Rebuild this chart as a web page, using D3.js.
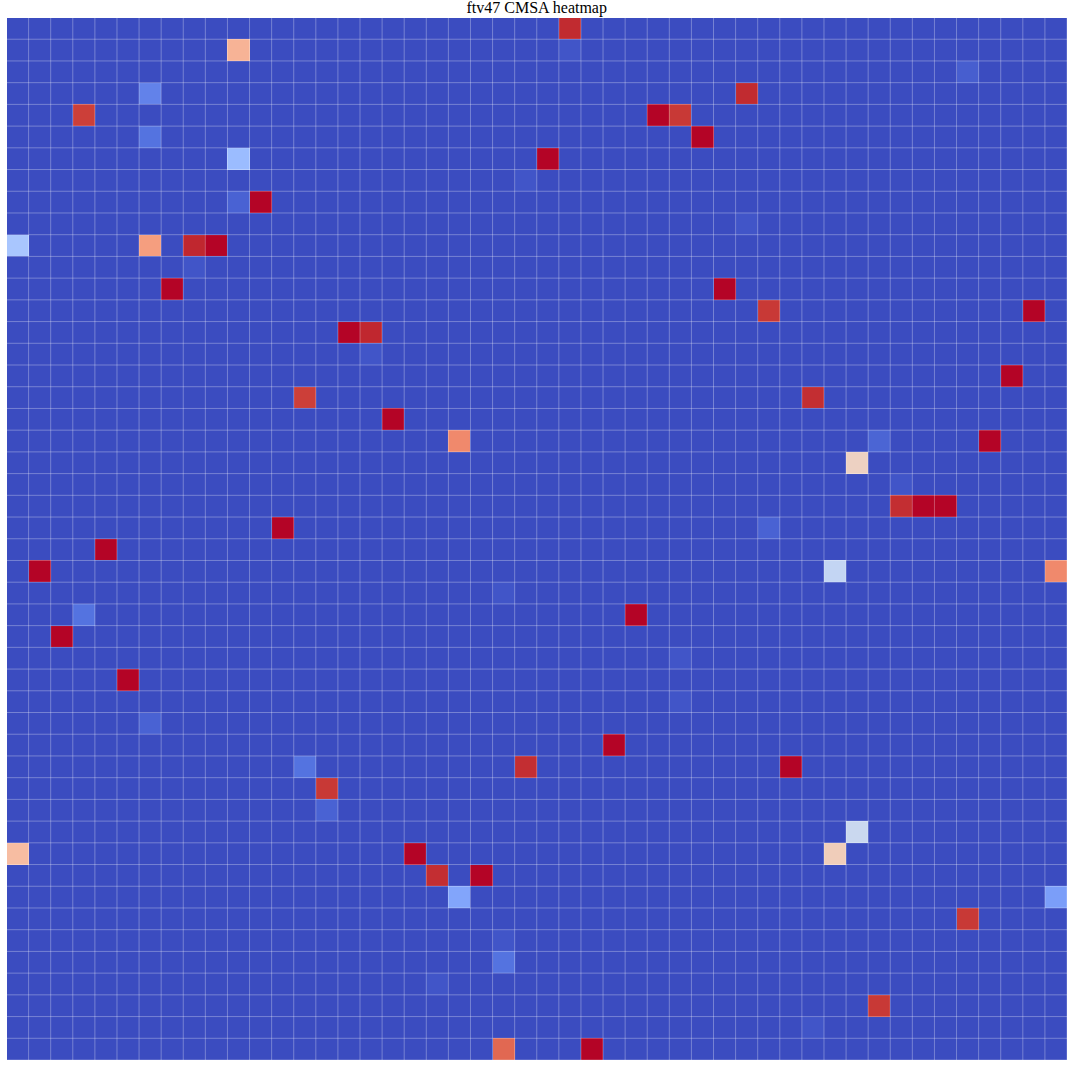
<!DOCTYPE html>
<html>
<head>
<meta charset="utf-8">
<script src="https://cdn.jsdelivr.net/npm/d3@7"></script>
<style>
  html, body { margin: 0; padding: 0; background: #ffffff; }
  svg { display: block; }
</style>
</head>
<body>
<svg id="chart" width="1067" height="1067"></svg>
<script>
// ---- data ----
const title = "ftv47 CMSA heatmap";
const rowLabels = d3.range(48);   // 48 rows
const colLabels = d3.range(48);   // 48 columns
const baseValue = 0;
// non-zero cells (row, column, value)
const hotRows = [0, 1, 1, 2, 3, 3, 4, 4, 4, 5, 5, 6, 6, 7, 8, 8, 9, 10, 10, 10, 10, 11, 12, 12, 13, 13, 14, 14, 15, 16, 17, 17, 18, 19, 19, 19, 20, 21, 22, 22, 22, 23, 23, 24, 25, 25, 25, 26, 27, 27, 28, 29, 30, 31, 32, 33, 34, 34, 34, 35, 36, 37, 38, 38, 38, 39, 39, 40, 40, 41, 42, 43, 44, 45, 46, 47, 47];
const hotCols = [25, 25, 10, 43, 6, 33, 3, 29, 30, 6, 31, 10, 24, 23, 10, 11, 33, 0, 6, 8, 9, 8, 7, 32, 34, 46, 15, 16, 16, 45, 13, 36, 17, 20, 39, 44, 38, 40, 40, 41, 42, 12, 34, 4, 1, 37, 47, 22, 3, 28, 2, 30, 5, 30, 6, 27, 13, 23, 35, 14, 14, 38, 0, 18, 37, 19, 21, 20, 47, 43, 22, 22, 19, 39, 36, 22, 26];
const hotValues = [0.965, 0.02, 0.68, 0.04, 0.125, 0.965, 0.935, 1.0, 0.945, 0.09, 1.0, 0.29, 1.0, 0.02, 0.05, 1.0, 0.02, 0.33, 0.74, 0.97, 1.0, 0.02, 1.0, 1.0, 0.945, 1.0, 1.0, 0.97, 0.02, 1.0, 0.935, 0.96, 1.0, 0.79, 0.055, 1.0, 0.57, 0.02, 0.96, 1.0, 1.0, 1.0, 0.05, 1.0, 1.0, 0.41, 0.79, 0.02, 0.09, 1.0, 1.0, 0.02, 1.0, 0.02, 0.05, 1.0, 0.09, 0.96, 1.0, 0.945, 0.05, 0.43, 0.65, 1.0, 0.59, 0.96, 1.0, 0.22, 0.2, 0.945, 0.02, 0.09, 0.02, 0.945, 0.02, 0.86, 1.0];

// coolwarm colormap control colours (Moreland diverging)
const coolwarmColors = [
  "#3b4cc0","#445acc","#4d68d7","#5575e1","#6282ea","#6c8ef1","#779af7","#82a5fb",
  "#8db0fe","#98b9ff","#a3c2ff","#aec9fd","#b8d0f9","#c2d5f4","#ccd9ee","#d5dbe6",
  "#dddddd","#e5d8d1","#ecd3c5","#f1ccb8","#f5c4ac","#f7bb9f","#f7b193","#f7a686",
  "#f49a7b","#f18d6f","#ec7f63","#e57058","#de604d","#d55042","#cb3e38","#c0282f",
  "#b40426"
];

// ---- build matrix ----
const cells = [];
rowLabels.forEach(r => colLabels.forEach(c => cells.push({ r, c, v: baseValue })));
hotRows.forEach((r, i) => { cells[r * colLabels.length + hotCols[i]].v = hotValues[i]; });

// ---- layout ----
const svg = d3.select("#chart");
const plotLeft = 6.5, plotRight = 1067, plotTop = 17.5, plotBottom = 1060;

const x = d3.scaleBand().domain(colLabels).range([plotLeft, plotRight]).paddingInner(0).paddingOuter(0);
const y = d3.scaleBand().domain(rowLabels).range([plotTop, plotBottom]).paddingInner(0).paddingOuter(0);
const color = d3.scaleLinear()
  .domain(coolwarmColors.map((_, i) => i / (coolwarmColors.length - 1)))
  .range(coolwarmColors)
  .interpolate(d3.interpolateRgb)
  .clamp(true);

svg.append("g")
  .selectAll("rect")
  .data(cells)
  .join("rect")
  .attr("x", d => x(d.c))
  .attr("y", d => y(d.r))
  .attr("width", x.bandwidth() + 0.3)
  .attr("height", y.bandwidth() + 0.3)
  .attr("fill", d => color(d.v))
  .attr("shape-rendering", "crispEdges");

// grid lines at cell boundaries
const xEdges = colLabels.map(c => x(c)).concat([plotRight]);
const yEdges = rowLabels.map(r => y(r)).concat([plotBottom]);
const grid = svg.append("g")
  .attr("stroke", "rgba(255,255,255,0.3)")
  .attr("stroke-width", 1);
grid.selectAll("line.v")
  .data(xEdges)
  .join("line")
  .attr("class", "v")
  .attr("x1", d => d).attr("x2", d => d)
  .attr("y1", plotTop).attr("y2", plotBottom);
grid.selectAll("line.h")
  .data(yEdges)
  .join("line")
  .attr("class", "h")
  .attr("y1", d => d).attr("y2", d => d)
  .attr("x1", plotLeft).attr("x2", plotRight);

// title
svg.append("text")
  .attr("x", (plotLeft + plotRight) / 2)
  .attr("y", 13)
  .attr("text-anchor", "middle")
  .attr("font-family", "'Liberation Serif', 'DejaVu Serif', serif")
  .attr("font-size", 16)
  .attr("fill", "#000")
  .text(title);
</script>
</body>
</html>
